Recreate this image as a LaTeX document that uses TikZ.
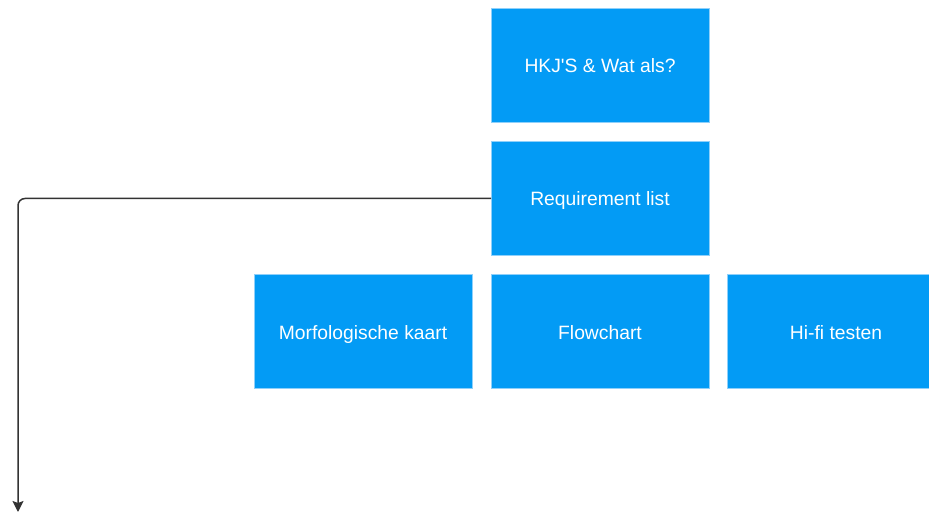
\documentclass[tikz,border=0pt]{standalone}
\usepackage{fontspec}
\setmainfont{Liberation Sans}
\usetikzlibrary{positioning,arrows.meta}

\definecolor{boxblue}{HTML}{039BF5}
\definecolor{boxedge}{HTML}{8FD0FA}
\definecolor{linegray}{HTML}{333333}

\begin{document}
\begin{tikzpicture}[x=1pt, y=-1pt,
    node distance=19pt,
    card/.style={draw=boxedge, line width=0.8pt, fill=boxblue, text=white,
      minimum width=218pt, minimum height=114pt, inner sep=0pt, outer sep=0pt,
      text height=16pt, text depth=1pt,
      font=\fontsize{19.3}{22}\selectfont},
    conn/.style={draw=linegray, line width=1.5pt, rounded corners=7pt,
      -{Stealth[length=11pt, width=11pt, inset=2pt]}}]
  % canvas
  \clip (0,0) rectangle (929,513);
  \useasboundingbox (0,0) rectangle (929,513);
  % column of cards
  \node[card] (hkj) at (600,65.5) {HKJ\textquotesingle S \& Wat als?};
  \node[card, below=of hkj] (req) {Requirement list};
  \node[card, below=of req] (flow) {Flowchart};
  \node[card, left=of flow] (morf) {Morfologische kaart};
  \node[card, right=18pt of flow] (hifi) {Hi-fi testen};
  % connector down the left side
  \coordinate (tip) at (18,512);
  \draw[conn] (req.west) -| (tip);
\end{tikzpicture}
\end{document}
